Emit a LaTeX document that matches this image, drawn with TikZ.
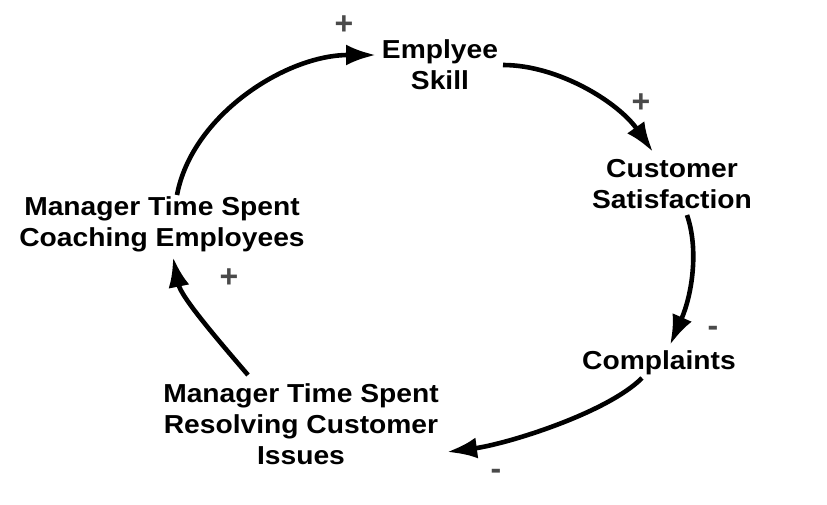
\documentclass[tikz,border=0pt]{standalone}
\usepackage{fontspec}
\setmainfont{Liberation Sans}
\newfontfamily\varfont[FakeStretch=1.085]{Liberation Sans}
\usetikzlibrary{arrows.meta}
\definecolor{signgray}{HTML}{4A4A4A}
\tikzset{
  var/.style={align=center,inner sep=0pt,font=\varfont\bfseries\fontsize{26}{31}\selectfont,text=black},
  sign/.style={inner sep=0pt,font=\bfseries\fontsize{32}{32}\selectfont,text=signgray},
  link/.style={line width=4.6pt,-{Latex[length=30pt,width=21pt]}}
}
\begin{document}
\begin{tikzpicture}[x=1pt,y=-1pt]
\useasboundingbox (0,0) rectangle (827,504);
\node[var] (skill) at (440,65) {Emplyee\\Skill};
\node[var] (cust) at (672,184) {Customer\\Satisfaction};
\node[var] (comp) at (659,363) {Complaints};
\node[var] (res) at (301,424) {Manager Time Spent\\Resolving Customer\\Issues};
\node[var] (coach) at (162,224) {Manager Time Spent\\Coaching Employees};
\node[sign] (s1) at (344,25) {+};
\node[sign] (s2) at (641,103) {+};
\node[sign] (s3) at (713,331) {-};
\node[sign] (s4) at (496,474) {-};
\node[sign] (s5) at (229,278) {+};
\draw[link] ([shift={(15,-29)}]coach.center) .. controls +(15,-80) and +(-90,0) .. ([shift={(-64,-10)}]skill.center);
\draw[link] ([shift={(63,0)}]skill.center) .. controls +(55,0) and +(-35,-50) .. ([shift={(-19,-32)}]cust.center);
\draw[link] ([shift={(15,31)}]cust.center) .. controls +(12,35) and +(22,-50) .. ([shift={(11,-18)}]comp.center);
\draw[link] ([shift={(-17,15)}]comp.center) .. controls +(-35,35) and +(60,-8) .. ([shift={(146,28)}]res.center);
\draw[link] ([shift={(-53,-49)}]res.center) .. controls +(-30,-35) and +(8,40) .. ([shift={(11,33)}]coach.center);
\end{tikzpicture}
\end{document}
